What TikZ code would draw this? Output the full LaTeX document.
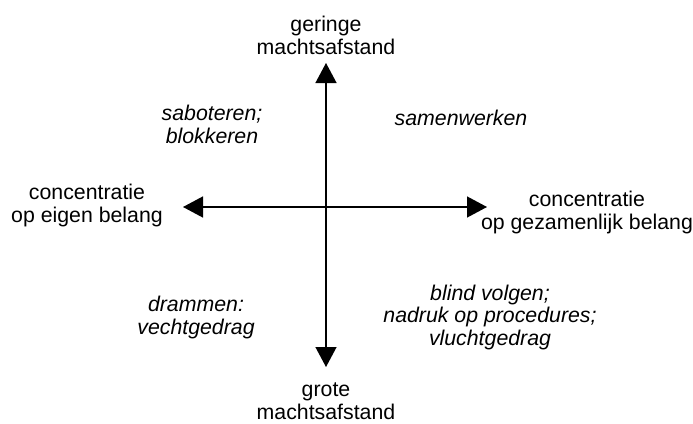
\documentclass[tikz,border=0pt]{standalone}
\usepackage{fontspec}
\setmainfont{Liberation Sans}
\usetikzlibrary{arrows.meta}
\tikzset{
  axis/.style={line width=1.4pt,{Triangle[length=20pt,width=21pt]}-{Triangle[length=20pt,width=21pt]}},
  lbl/.style={font=\fontsize{21.3}{23}\selectfont,align=center,inner sep=0pt,anchor=base},
  ital/.style={lbl,font=\fontsize{21.3}{22.5}\selectfont\itshape}
}
\begin{document}
\begin{tikzpicture}[x=1pt,y=-1pt]
\useasboundingbox (0,0) rectangle (693,423);
\coordinate (L) at (183,207);
\coordinate (R) at (487,207);
\coordinate (T) at (326,63);
\coordinate (B) at (326,367);
\draw[axis] (L) -- (R);
\draw[axis] (T) -- (B);
\node[lbl] (top) at (326,54) {geringe\\machtsafstand};
\node[lbl] (bot) at (326,419) {grote\\machtsafstand};
\node[lbl] (left) at (87,222) {concentratie\\op eigen belang};
\node[lbl] (right) at (587,229) {concentratie\\op gezamenlijk belang};
\node[ital] (sab) at (212,143) {saboteren;\\blokkeren};
\node[ital] (sam) at (461,125) {samenwerken};
\node[ital] (dra) at (196,334) {drammen:\\vechtgedrag};
\node[ital] (bli) at (490,345) {blind volgen;\\nadruk op procedures;\\vluchtgedrag};
\end{tikzpicture}
\end{document}
